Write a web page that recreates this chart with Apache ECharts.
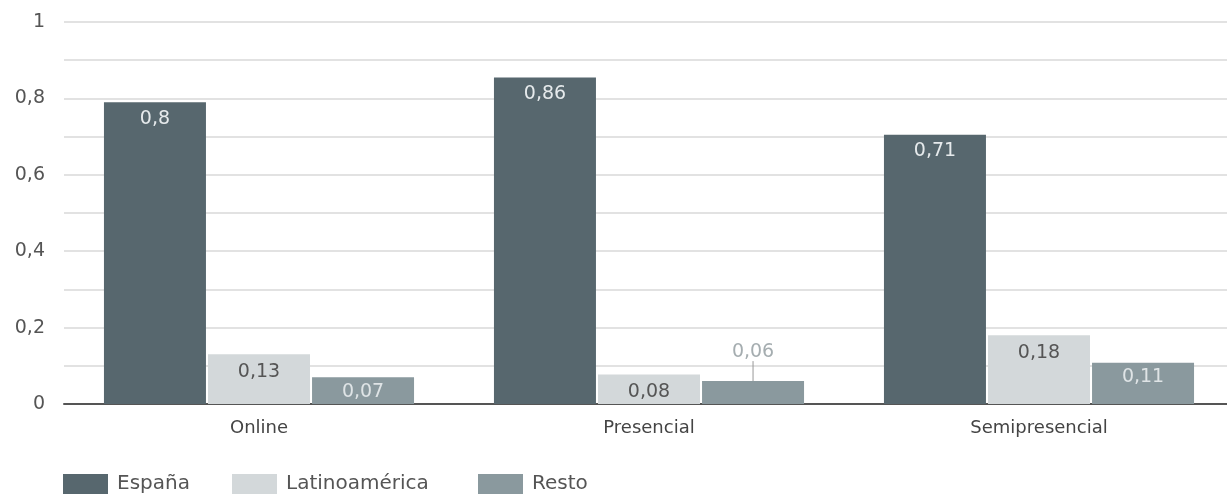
<!DOCTYPE html>
<html>
<head>
<meta charset="utf-8">
<script src="https://cdn.jsdelivr.net/npm/echarts@6/dist/echarts.min.js"></script>
<style>html,body{margin:0;padding:0;background:#fff;overflow:hidden}#c{width:1234px;height:498px}</style>
</head>
<body>
<div id="c"></div>
<script>
const categories = ['Online', 'Presencial', 'Semipresencial'];
const seriesNames = ['España', 'Latinoamérica', 'Resto'];
const espana = [0.79, 0.855, 0.705];
const latino = [0.13, 0.077, 0.18];
const resto = [0.07, 0.06, 0.108];
const espanaLabels = ['0,8', '0,86', '0,71'];
const latinoLabels = ['0,13', '0,08', '0,18'];
const restoLabels = ['0,07', '0,06', '0,11'];
const yTicks = [0, 0.2, 0.4, 0.6, 0.8, 1];
const yTickLabels = ['0', '0,2', '0,4', '0,6', '0,8', '1'];

const FONT = '"DejaVu Sans", sans-serif';
const colors = ['#57676e', '#d3d8da', '#8a999e'];
const legendLeft = [63, 232, 478];

const chart = echarts.init(document.getElementById('c'));
chart.setOption({
  animation: false,
  color: colors,
  textStyle: { fontFamily: FONT },
  grid: { left: 64, right: 0, top: 22, bottom: 94 },
  legend: seriesNames.map((n, i) => ({
    left: legendLeft[i], top: 474, padding: 0, itemWidth: 45, itemHeight: 20,
    icon: 'rect',
    textStyle: { fontFamily: FONT, fontSize: 20, color: '#555', padding: [0, 0, 0, 4] },
    data: [n]
  })),
  xAxis: {
    type: 'category', data: categories,
    axisLine: { lineStyle: { color: '#555', width: 2 } },
    axisTick: { show: false },
    axisLabel: { fontFamily: FONT, fontSize: 18, color: '#444', margin: 15 }
  },
  yAxis: {
    type: 'value', min: 0, max: 1, interval: 0.1,
    axisLine: { show: false }, axisTick: { show: false },
    splitLine: { lineStyle: { color: '#e2e2e2', width: 2 } },
    axisLabel: {
      fontFamily: FONT, fontSize: 19, color: '#555', margin: 19,
      formatter: function (v) {
        for (let i = 0; i < yTicks.length; i++) {
          if (Math.abs(v - yTicks[i]) < 1e-6) return yTickLabels[i];
        }
        return '';
      }
    }
  },
  series: [
    {
      name: seriesNames[0], type: 'bar', data: espana, barWidth: 102, barGap: '2%',
      itemStyle: { color: colors[0] },
      label: { show: true, position: 'insideTop', distance: 7, fontSize: 19, fontFamily: FONT, color: '#e6eaec',
        formatter: p => espanaLabels[p.dataIndex] }
    },
    {
      name: seriesNames[1], type: 'bar', data: latino, barWidth: 102, barGap: '2%',
      itemStyle: { color: colors[1] },
      label: { show: true, position: 'insideTop', distance: 8, fontSize: 19, fontFamily: FONT, color: '#555',
        formatter: p => latinoLabels[p.dataIndex] }
    },
    {
      name: seriesNames[2], type: 'bar', barWidth: 102, barGap: '2%',
      data: resto.map((v, i) => i === 1 ? { value: v, label: { color: '#a5adb0' } } : v),
      itemStyle: { color: colors[2] },
      label: { show: true, position: 'insideTop', distance: 5, fontSize: 19, fontFamily: FONT, color: '#dfe4e6',
        formatter: p => restoLabels[p.dataIndex] },
      labelLayout: function (p) {
        if (p.dataIndex === 1) return { dy: -44 };
        return {};
      },
      labelLine: { show: true, lineStyle: { color: '#999', width: 1 } }
    }
  ]
});
</script>
</body>
</html>
